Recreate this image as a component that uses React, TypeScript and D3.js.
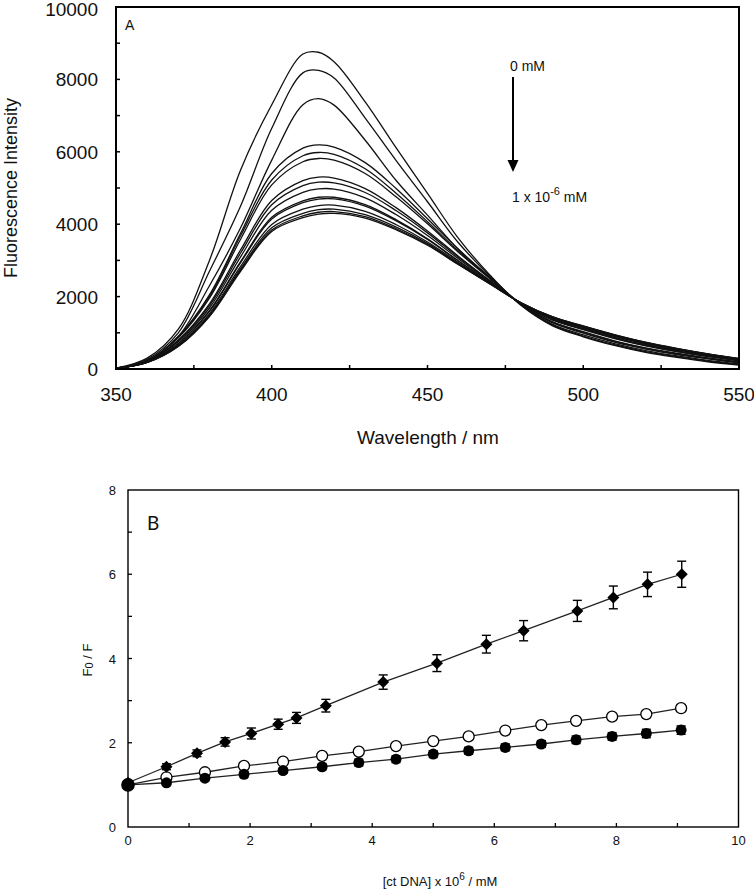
import React from "react";
import * as d3 from "d3";

// ---------- Panel A data: fluorescence spectra ----------
const wavelengths = [350, 360, 370, 380, 390, 400, 410, 415, 420, 430, 440, 450, 460, 470, 480, 490, 500, 510, 520, 530, 540, 550];
const spec01 = [20, 300, 1100, 3000, 5500, 7300, 8700, 8750, 8490, 7380, 6100, 4850, 3600, 2600, 1760, 1200, 890, 650, 460, 320, 200, 110];
const spec02 = [20, 270, 1000, 2700, 4500, 6650, 8180, 8250, 8040, 6930, 5750, 4620, 3480, 2570, 1770, 1220, 910, 670, 480, 340, 220, 120];
const spec03 = [20, 240, 900, 2300, 3900, 5770, 7300, 7470, 7290, 6320, 5200, 4250, 3300, 2530, 1780, 1240, 940, 700, 510, 360, 240, 140];
const spec04 = [20, 230, 900, 2050, 3750, 5400, 6100, 6190, 6130, 5700, 4980, 4150, 3300, 2530, 1790, 1280, 990, 740, 550, 400, 280, 170];
const spec05 = [20, 225, 880, 2000, 3680, 5220, 5890, 5980, 5930, 5530, 4850, 4070, 3250, 2510, 1795, 1300, 1010, 760, 570, 420, 295, 185];
const spec06 = [20, 220, 860, 1960, 3585, 5085, 5725, 5815, 5770, 5400, 4750, 4010, 3220, 2495, 1798, 1310, 1030, 780, 585, 435, 305, 195];
const spec07 = [20, 205, 800, 1800, 3290, 4655, 5205, 5300, 5275, 4985, 4450, 3810, 3110, 2445, 1808, 1355, 1085, 840, 640, 480, 345, 225];
const spec08 = [20, 205, 780, 1750, 3205, 4535, 5065, 5160, 5140, 4875, 4370, 3760, 3080, 2435, 1810, 1365, 1100, 855, 655, 490, 355, 235];
const spec09 = [20, 200, 750, 1685, 3100, 4385, 4880, 4975, 4970, 4730, 4260, 3690, 3040, 2415, 1815, 1385, 1115, 875, 670, 510, 370, 245];
const spec10 = [20, 190, 705, 1610, 2965, 4190, 4645, 4745, 4745, 4540, 4120, 3600, 2985, 2395, 1820, 1405, 1140, 900, 695, 530, 385, 260];
const spec11 = [20, 190, 695, 1590, 2940, 4145, 4595, 4695, 4700, 4500, 4090, 3580, 2975, 2390, 1821, 1410, 1145, 905, 700, 535, 390, 265];
const spec12 = [20, 185, 665, 1530, 2835, 3995, 4415, 4515, 4525, 4355, 3985, 3510, 2935, 2370, 1825, 1430, 1165, 925, 715, 550, 405, 275];
const spec13 = [20, 185, 645, 1490, 2770, 3900, 4300, 4400, 4415, 4265, 3920, 3470, 2905, 2360, 1828, 1440, 1175, 935, 730, 560, 410, 280];
const spec14 = [20, 180, 630, 1465, 2730, 3840, 4230, 4330, 4350, 4210, 3875, 3440, 2890, 2355, 1829, 1445, 1185, 945, 735, 565, 415, 285];
const spec15 = [20, 180, 620, 1450, 2700, 3800, 4180, 4280, 4300, 4170, 3845, 3420, 2880, 2350, 1830, 1450, 1190, 950, 740, 570, 420, 290];
const spectra = [spec01, spec02, spec03, spec04, spec05, spec06, spec07, spec08, spec09, spec10, spec11, spec12, spec13, spec14, spec15];

const xTicksA = [350, 400, 450, 500, 550];
const yTicksA = [0, 2000, 4000, 6000, 8000, 10000];

// ---------- Panel B data: Stern-Volmer ----------
const diamondX = [0, 0.63, 1.13, 1.59, 2.02, 2.46, 2.76, 3.24, 4.18, 5.06, 5.87, 6.48, 7.36, 7.95, 8.51, 9.07];
const diamondY = [1.05, 1.43, 1.75, 2.02, 2.22, 2.44, 2.59, 2.88, 3.44, 3.89, 4.34, 4.66, 5.13, 5.45, 5.76, 6.0];
const diamondErr = [0.03, 0.07, 0.08, 0.1, 0.13, 0.12, 0.13, 0.15, 0.17, 0.2, 0.21, 0.24, 0.25, 0.27, 0.29, 0.31];

const circleX = [0, 0.63, 1.26, 1.9, 2.54, 3.18, 3.78, 4.39, 5.0, 5.58, 6.18, 6.77, 7.34, 7.93, 8.49, 9.06];
const openY = [1.0, 1.18, 1.3, 1.45, 1.55, 1.69, 1.79, 1.92, 2.04, 2.15, 2.29, 2.42, 2.52, 2.62, 2.68, 2.82];
const openErr = [0.02, 0.04, 0.04, 0.05, 0.05, 0.05, 0.05, 0.06, 0.06, 0.06, 0.07, 0.07, 0.07, 0.07, 0.08, 0.08];
const filledY = [1.0, 1.05, 1.16, 1.25, 1.34, 1.43, 1.53, 1.61, 1.73, 1.81, 1.89, 1.97, 2.07, 2.15, 2.22, 2.3];
const filledErr = [0.02, 0.05, 0.06, 0.07, 0.06, 0.07, 0.08, 0.08, 0.08, 0.08, 0.08, 0.08, 0.09, 0.09, 0.1, 0.1];

const xTicksB = [0, 2, 4, 6, 8, 10];
const yTicksB = [0, 2, 4, 6, 8];

const FONT = "'Liberation Sans', Arial, sans-serif";

export default function App() {
  // Panel A scales
  const xA = d3.scaleLinear().domain([350, 550]).range([116, 739]);
  const yA = d3.scaleLinear().domain([0, 10000]).range([369, 7]);
  const lineA = d3
    .line<[number, number]>()
    .x((d) => xA(d[0]))
    .y((d) => yA(d[1]))
    .curve(d3.curveCatmullRom.alpha(0.5));

  // Panel B scales
  const xB = d3.scaleLinear().domain([0, 10]).range([128, 738.5]);
  const yB = d3.scaleLinear().domain([0, 8]).range([827, 490]);
  const lineB = d3
    .line<[number, number]>()
    .x((d) => xB(d[0]))
    .y((d) => yB(d[1]));

  const minorXA = d3.range(375, 550, 25);
  const minorYA = d3.range(1000, 10000, 1000);
  const minorXB = d3.range(1, 10, 1);
  const minorYB = d3.range(1, 8, 1);

  const diamondPts = diamondX.map((x, i) => [x, diamondY[i]] as [number, number]);
  const openPts = circleX.map((x, i) => [x, openY[i]] as [number, number]);
  const filledPts = circleX.map((x, i) => [x, filledY[i]] as [number, number]);

  const errBar = (x: number, y: number, e: number, key: string) => {
    const cx = xB(x);
    const y1 = yB(y + e);
    const y2 = yB(y - e);
    return (
      <g key={key} stroke="#000" strokeWidth={1.4}>
        <line x1={cx} x2={cx} y1={y1} y2={y2} />
        <line x1={cx - 4.5} x2={cx + 4.5} y1={y1} y2={y1} />
        <line x1={cx - 4.5} x2={cx + 4.5} y1={y2} y2={y2} />
      </g>
    );
  };

  return (
    <svg
      width={754}
      height={894}
      style={{ position: "absolute", left: 0, top: 0, background: "#fff" }}
      fontFamily={FONT}
    >
      <rect x={0} y={0} width={754} height={894} fill="#fff" />
      <defs>
        <clipPath id="clipA">
          <rect x={xA(350)} y={yA(10000)} width={xA(550) - xA(350)} height={yA(0) - yA(10000)} />
        </clipPath>
      </defs>

      {/* ---------------- Panel A ---------------- */}
      <g clipPath="url(#clipA)" fill="none" stroke="#111" strokeWidth={1.3}>
        {spectra.map((s, i) => (
          <path key={i} d={lineA(wavelengths.map((w, j) => [w, s[j]] as [number, number])) || ""} />
        ))}
      </g>
      <rect
        x={xA(350)}
        y={yA(10000)}
        width={xA(550) - xA(350)}
        height={yA(0) - yA(10000)}
        fill="none"
        stroke="#000"
        strokeWidth={2}
      />
      {minorXA.map((t) => (
        <line key={"mxa" + t} x1={xA(t)} x2={xA(t)} y1={yA(0)} y2={yA(0) - 4} stroke="#000" strokeWidth={1.5} />
      ))}
      {minorYA.map((t) => (
        <line key={"mya" + t} x1={xA(350)} x2={xA(350) + 4} y1={yA(t)} y2={yA(t)} stroke="#000" strokeWidth={1.5} />
      ))}
      {xTicksA.map((t) => (
        <text key={"xa" + t} x={xA(t)} y={401} textAnchor="middle" fontSize={19} fill="#111">
          {t}
        </text>
      ))}
      {yTicksA.map((t) => (
        <text key={"ya" + t} x={98} y={Math.max(yA(t) + 7, 16)} textAnchor="end" fontSize={19} fill="#111">
          {t}
        </text>
      ))}
      <text x={428} y={444} textAnchor="middle" fontSize={19} fill="#111">
        Wavelength / nm
      </text>
      <text transform="translate(17,188) rotate(-90)" textAnchor="middle" fontSize={18} fill="#111">
        Fluorescence Intensity
      </text>
      <text x={125} y={30} fontSize={14} fill="#111">
        A
      </text>
      {/* annotation */}
      <text x={510} y={71} fontSize={14} fill="#111">
        0 mM
      </text>
      <line x1={513} x2={513} y1={77} y2={162} stroke="#000" strokeWidth={2} />
      <path d="M507.5,160 L518.5,160 L513,172 Z" fill="#000" />
      <text x={512} y={202} fontSize={14} fill="#111">
        1 x 10
        <tspan dy={-7} fontSize={11}>
          -6
        </tspan>
        <tspan dy={7} fontSize={14}>
          {" "}mM
        </tspan>
      </text>

      {/* ---------------- Panel B ---------------- */}
      <rect
        x={xB(0)}
        y={yB(8)}
        width={xB(10) - xB(0)}
        height={yB(0) - yB(8)}
        fill="none"
        stroke="#000"
        strokeWidth={1.4}
      />
      {minorXB.map((t) => (
        <line key={"mxb" + t} x1={xB(t)} x2={xB(t)} y1={yB(0)} y2={yB(0) - 4} stroke="#000" strokeWidth={1.3} />
      ))}
      {minorYB.map((t) => (
        <line key={"myb" + t} x1={xB(0)} x2={xB(0) + 4} y1={yB(t)} y2={yB(t)} stroke="#000" strokeWidth={1.3} />
      ))}
      {xTicksB.map((t) => (
        <text key={"xb" + t} x={xB(t)} y={845} textAnchor="middle" fontSize={13} fill="#111">
          {t}
        </text>
      ))}
      {yTicksB.map((t) => (
        <text key={"yb" + t} x={116} y={yB(t) + 5} textAnchor="end" fontSize={13} fill="#111">
          {t}
        </text>
      ))}
      <text x={440} y={886} textAnchor="middle" fontSize={13} fill="#111">
        [ct DNA] x 10
        <tspan dy={-6} fontSize={10}>
          6
        </tspan>
        <tspan dy={6} fontSize={13}>
          {" "}/ mM
        </tspan>
      </text>
      <text transform="translate(92,660) rotate(-90)" textAnchor="middle" fontSize={13} fill="#111">
        F
        <tspan fontSize={11} dy={1}>
          0
        </tspan>
        <tspan dy={-1} fontSize={13}>
          {" "}/ F
        </tspan>
      </text>
      <text x={147} y={530} fontSize={19} fontFamily="Lato, 'Open Sans', sans-serif" fill="#111">
        B
      </text>

      {/* lines */}
      <g fill="none" stroke="#222" strokeWidth={1.3}>
        <path d={lineB(diamondPts) || ""} />
        <path d={lineB(openPts) || ""} />
        <path d={lineB(filledPts) || ""} />
      </g>

      {/* error bars */}
      {diamondX.map((x, i) => errBar(x, diamondY[i], diamondErr[i], "ed" + i))}
      {circleX.map((x, i) => errBar(x, openY[i], openErr[i], "eo" + i))}
      {circleX.map((x, i) => errBar(x, filledY[i], filledErr[i], "ef" + i))}

      {/* markers */}
      {openPts.map((p, i) => (
        <circle key={"o" + i} cx={xB(p[0])} cy={yB(p[1])} r={5.5} fill="#fff" stroke="#000" strokeWidth={1.3} />
      ))}
      {filledPts.map((p, i) => (
        <circle key={"f" + i} cx={xB(p[0])} cy={yB(p[1])} r={i === 0 ? 6.8 : 5.5} fill="#000" />
      ))}
      {diamondPts.map((p, i) => {
        const cx = xB(p[0]);
        const cy = yB(p[1]);
        const s = 6;
        return (
          <path
            key={"d" + i}
            d={`M${cx},${cy - s} L${cx + s},${cy} L${cx},${cy + s} L${cx - s},${cy} Z`}
            fill="#000"
          />
        );
      })}
    </svg>
  );
}
